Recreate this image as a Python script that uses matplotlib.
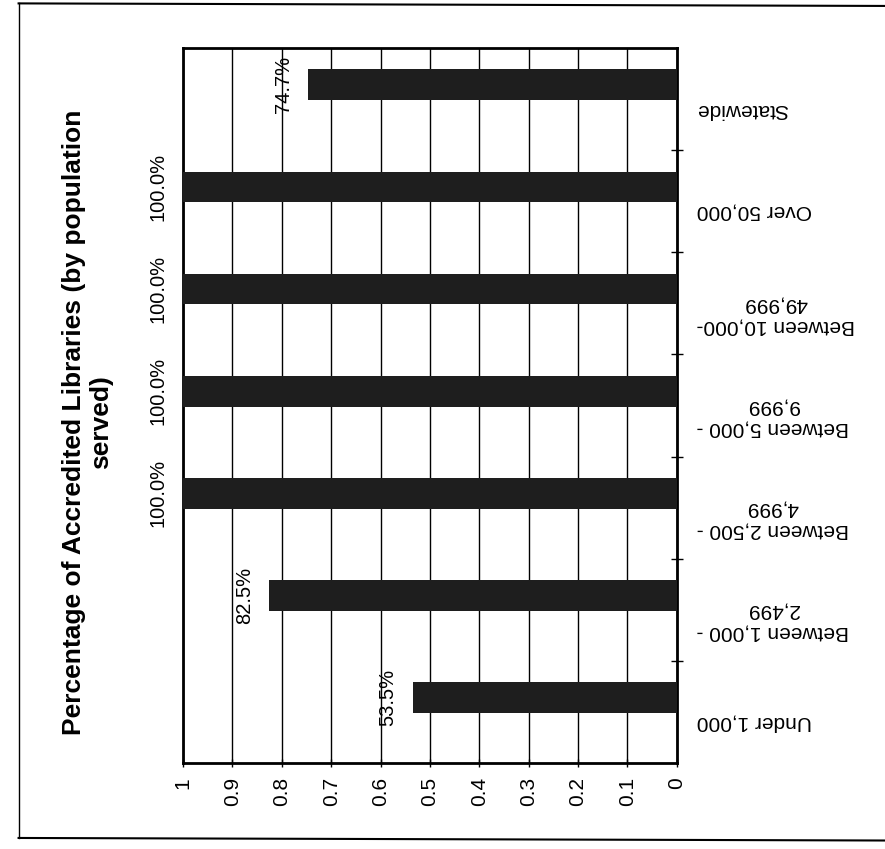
import matplotlib.pyplot as plt
from matplotlib.lines import Line2D
import numpy as np

plt.rcParams['font.family'] = ['Liberation Sans', 'DejaVu Sans']

# data, bottom to top
categories = ["Under 1,000", "Between 1,000 -\n2,499", "Between 2,500 -\n4,999",
              "Between 5,000 -\n9,999", "Between 10,000-\n49,999", "Over 50,000",
              "Statewide"]
values = [0.535, 0.825, 1.0, 1.0, 1.0, 1.0, 0.747]
value_labels = ["53.5%", "82.5%", "100.0%", "100.0%", "100.0%", "100.0%", "74.7%"]
x_ticks = [0, 0.1, 0.2, 0.3, 0.4, 0.5, 0.6, 0.7, 0.8, 0.9, 1]
x_tick_labels = ["0", "0.1", "0.2", "0.3", "0.4", "0.5", "0.6", "0.7", "0.8", "0.9", "1"]

fig = plt.figure(figsize=(8.85, 8.49), dpi=100)
ax = fig.add_axes([0.2068, 0.1013, 0.558, 0.8422])

pos = np.arange(len(categories))
ax.barh(pos + 0.14, values, height=0.3, color='#1e1e1e', zorder=3)

# value labels, rotated like the rest of the page
for p, v, lab in zip(pos, values, value_labels):
    ax.text(v + 0.05, p + 0.14, lab, rotation=90, ha='center', va='center',
            fontsize=14.5, clip_on=False)

ax.set_xlim(1, 0)
ax.set_ylim(-0.5, len(categories) - 0.5)
ax.set_xticks(x_ticks, x_tick_labels)
ax.tick_params(axis='x', rotation=90, labelsize=15, direction='inout',
               length=6, width=1, pad=7)
ax.grid(axis='x', color='black', linewidth=1)
ax.set_axisbelow(True)

ax.yaxis.tick_right()
ax.set_yticks(pos - 0.08, categories)
ax.set_yticks(pos[:-1] + 0.5, minor=True)
ax.tick_params(axis='y', which='major', length=0, pad=14, labelsize=15)
ax.tick_params(axis='y', which='minor', direction='inout', length=8, width=1)
for t in ax.get_yticklabels():
    t.set_rotation(180)
    t.set_multialignment('center')

for s in ax.spines.values():
    s.set_linewidth(2)

fig.text(0.099, 0.503, "Percentage of Accredited Libraries (by population\nserved)",
         rotation=90, ha='center', va='center', fontsize=19, fontweight='bold',
         multialignment='center')

# page frame from the scan
fig.add_artist(Line2D([0.021, 0.021], [0.013, 0.996], color='black', lw=1))
fig.add_artist(Line2D([0.021, 1.0], [0.013, 0.010], color='black', lw=1.5))
fig.add_artist(Line2D([0.021, 1.0], [0.996, 0.993], color='black', lw=1.5))

fig.savefig('out.png', dpi=100, facecolor='white')
